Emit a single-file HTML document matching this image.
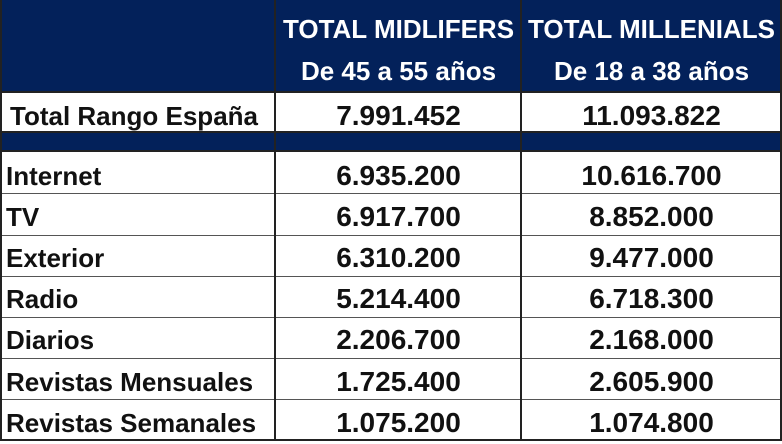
<!DOCTYPE html>
<html><head><style>
body{margin:0;width:782px;height:444px;background:#fff;position:relative;overflow:hidden;font-family:"Liberation Sans",sans-serif;font-weight:bold;}
.a{position:absolute;}
.h{background:#03215a;}
.l{position:absolute;background:#222;}
.t{position:absolute;font-size:26px;color:#111;white-space:nowrap;line-height:28px;}
.c{text-align:center;font-size:28px}
.w{color:#fff;font-size:26px}
</style></head><body>
<div class="a h" style="left:0;top:0;width:782px;height:91px"></div>
<div class="a h" style="left:0;top:132px;width:782px;height:18px"></div>
<div class="t c w" style="left:276px;top:15px;width:245px">TOTAL MIDLIFERS</div>
<div class="t c w" style="left:276px;top:57px;width:245px">De 45 a 55 años</div>
<div class="t c w" style="left:522px;top:15px;width:259px">TOTAL MILLENIALS</div>
<div class="t c w" style="left:522px;top:57px;width:259px">De 18 a 38 años</div>
<div class="l" style="left:0;top:91px;width:782px;height:2px"></div>
<div class="l" style="left:0;top:131px;width:782px;height:2px"></div>
<div class="l" style="left:0;top:150px;width:782px;height:2px"></div>
<div class="l" style="left:0;top:193px;width:782px;height:1px;background:#555"></div>
<div class="l" style="left:0;top:235px;width:782px;height:1px;background:#555"></div>
<div class="l" style="left:0;top:276px;width:782px;height:1px;background:#555"></div>
<div class="l" style="left:0;top:317px;width:782px;height:1px;background:#555"></div>
<div class="l" style="left:0;top:358px;width:782px;height:1px;background:#555"></div>
<div class="l" style="left:0;top:399px;width:782px;height:1px;background:#555"></div>
<div class="l" style="left:0;top:439px;width:782px;height:2px"></div>
<div class="l" style="left:0;top:0;width:2px;height:441px"></div>
<div class="l" style="left:274px;top:0;width:2px;height:441px"></div>
<div class="l" style="left:520px;top:0;width:2px;height:441px"></div>
<div class="l" style="left:780px;top:0;width:2px;height:441px"></div>

<div class="t" style="left:10px;top:102px">Total Rango España</div>
<div class="t c" style="left:276px;top:102px;width:245px">7.991.452</div>
<div class="t c" style="left:522px;top:102px;width:259px">11.093.822</div>

<div class="t" style="left:6px;top:162px">Internet</div>
<div class="t c" style="left:276px;top:162px;width:245px">6.935.200</div>
<div class="t c" style="left:522px;top:162px;width:259px">10.616.700</div>
<div class="t" style="left:6px;top:203px">TV</div>
<div class="t c" style="left:276px;top:203px;width:245px">6.917.700</div>
<div class="t c" style="left:522px;top:203px;width:259px">8.852.000</div>
<div class="t" style="left:6px;top:244px">Exterior</div>
<div class="t c" style="left:276px;top:244px;width:245px">6.310.200</div>
<div class="t c" style="left:522px;top:244px;width:259px">9.477.000</div>
<div class="t" style="left:6px;top:285px">Radio</div>
<div class="t c" style="left:276px;top:285px;width:245px">5.214.400</div>
<div class="t c" style="left:522px;top:285px;width:259px">6.718.300</div>
<div class="t" style="left:6px;top:326px">Diarios</div>
<div class="t c" style="left:276px;top:326px;width:245px">2.206.700</div>
<div class="t c" style="left:522px;top:326px;width:259px">2.168.000</div>
<div class="t" style="left:6px;top:368px">Revistas Mensuales</div>
<div class="t c" style="left:276px;top:368px;width:245px">1.725.400</div>
<div class="t c" style="left:522px;top:368px;width:259px">2.605.900</div>
<div class="t" style="left:6px;top:409px">Revistas Semanales</div>
<div class="t c" style="left:276px;top:409px;width:245px">1.075.200</div>
<div class="t c" style="left:522px;top:409px;width:259px">1.074.800</div>
</body></html>
